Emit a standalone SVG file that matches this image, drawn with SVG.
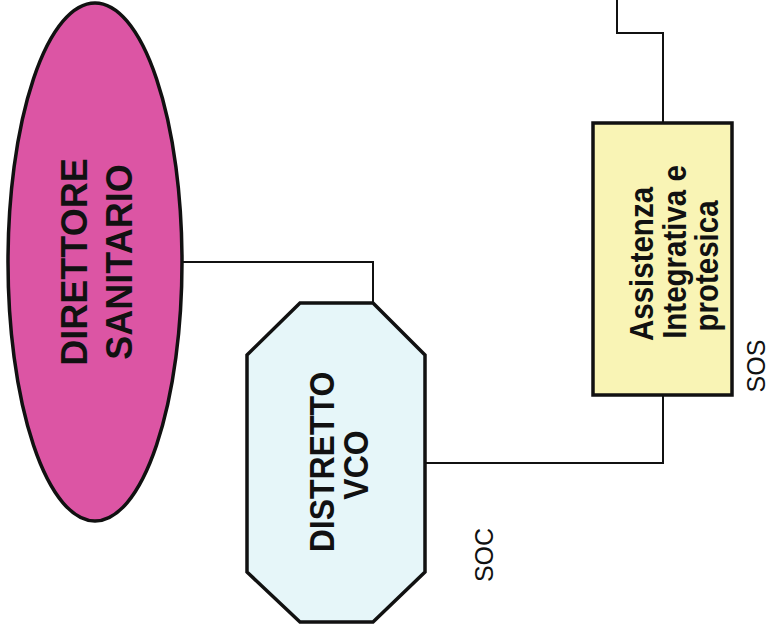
<svg xmlns="http://www.w3.org/2000/svg" width="770" height="633" viewBox="0 0 770 633">
<style>
.shape{stroke:#111;stroke-width:3.5}
.conn{fill:none;stroke:#111;stroke-width:2}
.lbl{font-family:"Liberation Sans",Arial,sans-serif;font-weight:bold;fill:#111;text-anchor:middle}
.tag{font-family:"Liberation Sans",Arial,sans-serif;fill:#111;text-anchor:middle;font-size:25px}
</style>
<rect width="770" height="633" fill="#ffffff"/>
<g id="connectors">
<polyline class="conn" points="182,262 373,262 373,303"/>
<polyline class="conn" points="617,0 617,33 663,33 663,123"/>
<polyline class="conn" points="425,463 663,463 663,395"/>
</g>
<g id="direttore">
<ellipse class="shape" cx="95" cy="262" rx="87" ry="259" fill="#dc55a4"/>
<text class="lbl" font-size="36" transform="translate(87,262) rotate(-90)">DIRETTORE</text>
<text class="lbl" font-size="36" transform="translate(132,262) rotate(-90)">SANITARIO</text>
</g>
<g id="distretto">
<polygon class="shape" points="300,303 373,303 425,355 425,572 373,622 300,622 247,572 247,355" fill="#e6f6f9"/>
<text class="lbl" font-size="32" transform="translate(334,462) rotate(-90) scale(1,1.1)">DISTRETTO</text>
<text class="lbl" font-size="32" transform="translate(368,465) rotate(-90) scale(1,1.1)">VCO</text>
<text class="tag" transform="translate(493,555) rotate(-90)">SOC</text>
</g>
<g id="assistenza">
<rect class="shape" x="593" y="123" width="139" height="272" fill="#f9f4b5"/>
<text class="lbl" font-size="29.5" transform="translate(653,264) rotate(-90) scale(1,1.1)">Assistenza</text>
<text class="lbl" font-size="29.5" transform="translate(686,252) rotate(-90) scale(1,1.1)">Integrativa e</text>
<text class="lbl" font-size="29.5" transform="translate(718,266) rotate(-90) scale(1,1.1)">protesica</text>
<text class="tag" transform="translate(765,366) rotate(-90)">SOS</text>
</g>
</svg>
